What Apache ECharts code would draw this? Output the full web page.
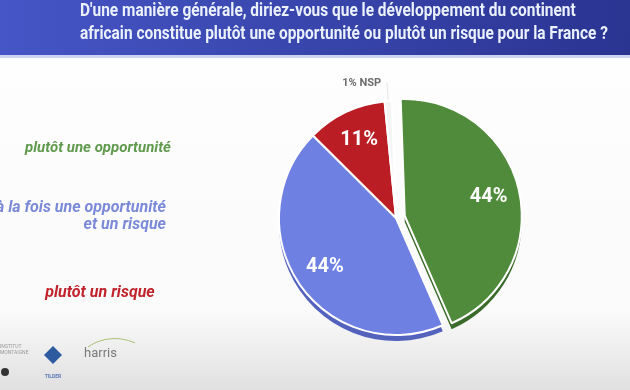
<!DOCTYPE html>
<html><head><meta charset="utf-8">
<script src="https://cdn.jsdelivr.net/npm/echarts@6/dist/echarts.min.js"></script>
<style>html,body{margin:0;padding:0;}#c{width:630px;height:390px;}</style>
</head><body><div id="c"></div>
<script>
const titleLines = ["D'une manière générale, diriez-vous que le développement du continent",
  "africain constitue plutôt une opportunité ou plutôt un risque pour la France ?"];
const categories = ["plutôt une opportunité", "à la fois une opportunité\net un risque", "plutôt un risque", "NSP"];
const values = [44, 44, 11, 1];
const colors = ["#4f8b3b", "#6f80e3", "#bb1d24", "#f5f5f5"];
const edgeColors = ["#3b6b2b", "#5262bd", "#8e1117", "#e8e8e8"];
const legendColors = ["#5f9a4d", "#7b8ad8", "#c0232b"];

const chart = echarts.init(document.getElementById('c'), null, {renderer: 'canvas'});
const center = [396, 218];
const depth = 6;
const R = 117;
const font = "Roboto, 'Open Sans', sans-serif";

const mainData = categories.map((c, i) => ({
  name: c, value: values[i], selected: i === 0,
  itemStyle: {color: colors[i]},
  label: i === 3 ? {show: true, position: 'outside', formatter: values[i] + '% ' + c,
      color: '#6d6d6d', fontSize: 11, fontWeight: 'bold', fontFamily: font} : {show: false},
  labelLine: i === 3 ? {show: true, length: 18, length2: 1, lineStyle: {color: '#e6e6e6', width: 1}} : {show: false}
}));
const depthData = categories.map((c, i) => ({
  name: c, value: values[i], selected: i === 0,
  itemStyle: {color: edgeColors[i]}, label: {show: false}, labelLine: {show: false}
}));
const labelData = categories.map((c, i) => ({
  name: c, value: values[i], selected: i === 0,
  itemStyle: {color: 'rgba(0,0,0,0)', borderWidth: 0},
  label: {show: i !== 3, position: 'inside', formatter: values[i] + '%', color: '#ffffff',
    fontSize: 20, fontWeight: 'bold', fontFamily: font}
}));

const graphics = [
  {type: 'rect', shape: {x: 0, y: 0, width: 630, height: 55}, silent: true,
   style: {fill: {type: 'linear', x: 0, y: 0, x2: 1, y2: 1, colorStops: [{offset: 0, color: '#4656c6'}, {offset: 1, color: '#2a3491'}]}}},
  {type: 'rect', shape: {x: 0, y: 55, width: 630, height: 3}, silent: true, style: {fill: '#cdd4f2'}},
];
titleLines.forEach((t, i) => graphics.push({
  type: 'text', x: 80, y: 2 + i * 23, scaleX: 0.835, silent: true,
  style: {text: t, fill: '#eaf0fc', font: "bold 18.5px " + font, textAlign: 'left', textVerticalAlign: 'top'}
}));
const legendPos = [{x: 98, y: 148, align: 'center', size: 15}, {x: 166, y: 216, align: 'right', size: 16},
  {x: 100, y: 293, align: 'center', size: 16}];
legendPos.forEach((p, i) => graphics.push({
  type: 'text', x: p.x, y: p.y, silent: true,
  style: {text: categories[i], fill: legendColors[i], font: "italic bold " + p.size + "px " + font,
    textAlign: p.align, textVerticalAlign: 'middle', lineHeight: 17}
}));
// logos (decorative)
graphics.push(
  {type: 'text', x: 0, y: 344, silent: true, style: {text: 'INSTITUT\nMONTAIGNE', fill: '#9a9a9a', font: '5px ' + font, lineHeight: 6}},
  {type: 'circle', shape: {cx: 5, cy: 372, r: 4}, silent: true, style: {fill: '#333'}},
  {type: 'polygon', shape: {points: [[53, 346], [62, 355], [53, 364], [44, 355]]}, silent: true, style: {fill: '#2e5aa0'}},
  {type: 'text', x: 53, y: 374, silent: true, style: {text: 'TILDER', fill: '#5a7ab8', font: 'bold 5px ' + font, textAlign: 'center'}},
  {type: 'text', x: 84, y: 347, silent: true, style: {text: 'harris', fill: '#7a7a7a', font: '13px ' + font}},
  {type: 'bezierCurve', shape: {x1: 88, y1: 347, x2: 135, y2: 343, cpx1: 105, cpy1: 335, cpx2: 125, cpy2: 338}, silent: true, style: {stroke: '#a8c070', lineWidth: 1, fill: null}}
);

const common = {type: 'pie', radius: [0, R], startAngle: 92, clockwise: true,
  selectedMode: 'single', selectedOffset: 9, silent: true, emphasis: {disabled: true}};

chart.setOption({
  backgroundColor: {type: 'linear', x: 0, y: 0, x2: 0, y2: 1, colorStops: [
    {offset: 0, color: '#ffffff'}, {offset: 0.8, color: '#fafafa'}, {offset: 1, color: '#e0e0e0'}]},
  animation: false,
  graphic: graphics,
  series: [
    Object.assign({}, common, {center: [center[0], center[1] + depth], z: 1,
      itemStyle: {borderColor: 'rgba(255,255,255,0.0)', borderWidth: 0}, data: depthData}),
    Object.assign({}, common, {center: center, z: 2,
      itemStyle: {borderColor: '#ffffff', borderWidth: 2}, data: mainData}),
    Object.assign({}, common, {center: center, radius: [R * 0.42, R], z: 3, data: labelData})
  ]
});
</script></body></html>
